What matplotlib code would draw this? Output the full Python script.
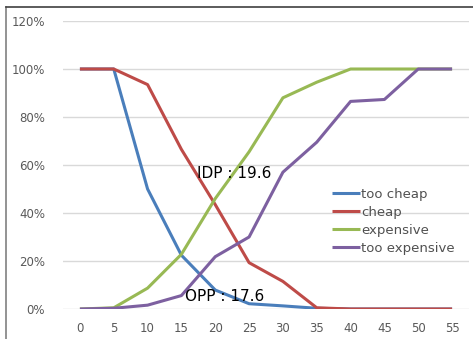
import matplotlib
matplotlib.use("Agg")
import matplotlib.pyplot as plt
from matplotlib.lines import Line2D
from matplotlib.ticker import FuncFormatter

prices = ["0", "5", "10", "15", "20", "25", "30", "35", "40", "45", "50", "55"]
too_cheap = [100, 100, 50, 22.4, 7.9, 2.2, 1.3, 0.3, 0, 0, 0, 0]
cheap = [100, 100, 93.5, 66.5, 43.5, 19.3, 11.5, 0.5, 0, 0, 0, 0]
expensive = [0, 0.5, 8.7, 22.8, 46, 65.5, 88, 94.5, 100, 100, 100, 100]
too_expensive = [0, 0.3, 1.6, 5.6, 21.8, 30, 57, 69.5, 86.5, 87.3, 100, 100]

series = [
    ("too cheap", too_cheap, "#4A7EBB"),
    ("cheap", cheap, "#BE4B48"),
    ("expensive", expensive, "#98B954"),
    ("too expensive", too_expensive, "#7D60A0"),
]

fig = plt.figure(figsize=(4.73, 3.39), dpi=100)
ax = fig.add_axes([63 / 473, 1 - 309 / 339, (469 - 63) / 473, (309 - 21) / 339])

x = list(range(len(prices)))
for name, vals, color in series:
    ax.plot(x, vals, color=color, lw=2.2, label=name, solid_capstyle="butt")

ax.set_xlim(-0.5, len(prices) - 0.5)
ax.set_ylim(0, 120)
ax.set_yticks(range(0, 121, 20))
ax.yaxis.set_major_formatter(FuncFormatter(lambda v, p: f"{int(v)}%"))
ax.set_xticks(x)
ax.set_xticklabels(prices)
ax.grid(axis="y", color="#D9D9D9", lw=1)
ax.set_axisbelow(True)
for s in ax.spines.values():
    s.set_visible(False)
ax.tick_params(length=0, labelsize=8.5, labelcolor="#595959")
ax.tick_params(axis="y", pad=13)
ax.tick_params(axis="x", pad=9)

ax.text(3.45, 56.5, "IDP : 19.6", fontsize=11, color="black", va="center", ha="left")
ax.text(3.1, 5.4, "OPP : 17.6", fontsize=11, color="black", va="center", ha="left")

leg = ax.legend(loc="upper left", bbox_to_anchor=(332 / 473, 1 - 188 / 339),
                bbox_transform=fig.transFigure, frameon=False, fontsize=9.5,
                handlelength=2.1, handletextpad=0.1, labelspacing=0.38,
                borderpad=0, borderaxespad=0)
for t in leg.get_texts():
    t.set_color("#505050")

# Outer frame edges
fig.add_artist(Line2D([6 / 473, 6 / 473], [0, 1 - 7 / 339], transform=fig.transFigure,
                      color="#808080", lw=1.2))
fig.add_artist(Line2D([6 / 473, 1], [1 - 7 / 339, 1 - 7 / 339], transform=fig.transFigure,
                      color="#404040", lw=1.2))

fig.savefig("out.png", dpi=100)
